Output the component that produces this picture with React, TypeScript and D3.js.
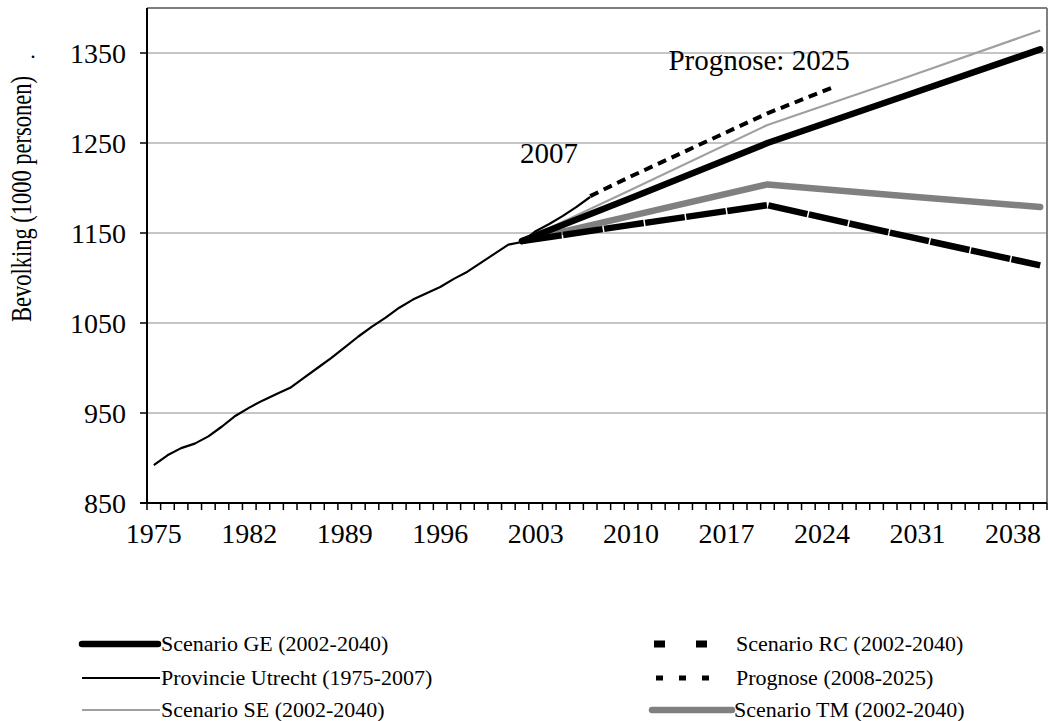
import React from "react";
import * as d3 from "d3";

// ---------- data ----------
const years: number[] = d3.range(1975, 2041);
const yTicks: number[] = [850, 950, 1050, 1150, 1250, 1350];
const xTickLabels: number[] = [1975, 1982, 1989, 1996, 2003, 2010, 2017, 2024, 2031, 2038];

const utrechtYears: number[] = d3.range(1975, 2008);
const utrechtValues: number[] = [
  892, 903, 911, 916, 924, 935, 947, 956, 964, 971, 978, 989, 1000, 1011, 1023, 1035,
  1046, 1056, 1067, 1076, 1083, 1090, 1099, 1107, 1117, 1127, 1137, 1140, 1152, 1160,
  1169, 1179, 1190,
];

const scenarioYears: number[] = [2002, 2010, 2020, 2030, 2040];
const geValues: number[] = [1141, 1189, 1250, 1302, 1354];
const seValues: number[] = [1141, 1198, 1270, 1322, 1375];
const tmValues: number[] = [1141, 1169, 1204, 1191, 1179];
const rcValues: number[] = [1141, 1159, 1181, 1147, 1114];

const prognoseYears: number[] = [2007, 2010, 2015, 2020, 2025];
const prognoseValues: number[] = [1191, 1213, 1248, 1283, 1313];

// ---------- layout ----------
const W = 1048;
const H = 721;
const plot = { left: 147, top: 8, right: 1047, bottom: 503 };
const FONT = "'Liberation Serif', 'Times New Roman', serif";

export default function App() {
  const x = d3.scaleBand<number>().domain(years).range([plot.left, plot.right]).paddingInner(0).paddingOuter(0);
  const xc = (yr: number) => (x(yr) as number) + x.bandwidth() / 2;
  const y = d3.scaleLinear().domain([850, 1400]).range([plot.bottom, plot.top]);

  const line = d3
    .line<[number, number]>()
    .x((d) => xc(d[0]))
    .y((d) => y(d[1]))
    .curve(d3.curveLinear);

  const zip = (xs: number[], vs: number[]) => xs.map((v, i) => [v, vs[i]] as [number, number]);

  const series = [
    { key: "se", d: line(zip(scenarioYears, seValues)), stroke: "#a0a0a0", w: 2.2, dash: undefined, cap: "butt" },
    { key: "utrecht", d: line(zip(utrechtYears, utrechtValues)), stroke: "#000", w: 2.2, dash: undefined, cap: "butt" },
    { key: "tm", d: line(zip(scenarioYears, tmValues)), stroke: "#808080", w: 6.5, dash: undefined, cap: "round" },
    { key: "rc", d: line(zip(scenarioYears, rcValues)), stroke: "#000", w: 6.5, dash: "40 1.5", cap: "butt" },
    { key: "ge", d: line(zip(scenarioYears, geValues)), stroke: "#000", w: 6.5, dash: undefined, cap: "round" },
    { key: "prog", d: line(zip(prognoseYears, prognoseValues)), stroke: "#000", w: 4, dash: "9 6", cap: "butt" },
  ];

  const legendRows = [644, 678, 710];

  return (
    <svg
      width={W}
      height={H}
      style={{ position: "absolute", left: 0, top: 0, background: "#fff" }}
      fontFamily={FONT}
    >
      <rect x={0} y={0} width={W} height={H} fill="#fff" />
      {/* grid lines */}
      {yTicks.slice(1).map((t) => (
        <line key={"g" + t} x1={plot.left} x2={plot.right} y1={y(t)} y2={y(t)} stroke="#8c8c8c" strokeWidth={1.2} />
      ))}
      {/* frame top & right */}
      <line x1={plot.left} x2={plot.right} y1={plot.top} y2={plot.top} stroke="#7f7f7f" strokeWidth={2} />
      <line x1={plot.right} x2={plot.right} y1={plot.top} y2={plot.bottom} stroke="#7f7f7f" strokeWidth={2} />

      {/* series */}
      {series.map((s) => (
        <path
          key={s.key}
          d={s.d || ""}
          fill="none"
          stroke={s.stroke}
          strokeWidth={s.w}
          strokeDasharray={s.dash}
          strokeLinecap={s.cap as any}
          strokeLinejoin="round"
        />
      ))}

      {/* axes */}
      <line x1={plot.left} x2={plot.left} y1={plot.top} y2={plot.bottom} stroke="#000" strokeWidth={2} />
      <line x1={plot.left - 7} x2={plot.right} y1={plot.bottom} y2={plot.bottom} stroke="#000" strokeWidth={2} />
      {yTicks.map((t) => (
        <g key={"yt" + t}>
          <line x1={plot.left - 7} x2={plot.left} y1={y(t)} y2={y(t)} stroke="#000" strokeWidth={1.5} />
          <text x={126} y={y(t)} dy="0.35em" textAnchor="end" fontSize={28} fill="#000">
            {t}
          </text>
        </g>
      ))}
      {years.map((yr) => (
        <line
          key={"xt" + yr}
          x1={x(yr) as number}
          x2={x(yr) as number}
          y1={plot.bottom}
          y2={plot.bottom + 7}
          stroke="#000"
          strokeWidth={1.5}
        />
      ))}
      <line x1={plot.right} x2={plot.right} y1={plot.bottom} y2={plot.bottom + 7} stroke="#000" strokeWidth={1.5} />
      {xTickLabels.map((yr) => (
        <text key={"xl" + yr} x={xc(yr)} y={543} textAnchor="middle" fontSize={28} fill="#000">
          {yr}
        </text>
      ))}

      {/* y title */}
      <text
        transform={`translate(31, ${199}) scale(1.3, 1) rotate(-90)`}
        textAnchor="middle"
        fontSize={22.5}
        fill="#000"
      >
        Bevolking (1000 personen)
      </text>
      <text x={33} y={58} fontSize={22} textAnchor="middle" fill="#000">.</text>

      {/* annotations */}
      <text x={549} y={163} textAnchor="middle" fontSize={29} fill="#000">2007</text>
      <text x={759} y={70} textAnchor="middle" fontSize={29} fill="#000">Prognose: 2025</text>

      {/* legend */}
      <g fontSize={22} fill="#000">
        <line x1={82} x2={158} y1={legendRows[0]} y2={legendRows[0]} stroke="#000" strokeWidth={6.5} strokeLinecap="round" />
        <text x={161} y={legendRows[0]} dy="0.32em">Scenario GE (2002-2040)</text>
        <line x1={82} x2={160} y1={legendRows[1]} y2={legendRows[1]} stroke="#000" strokeWidth={2.2} />
        <text x={161} y={legendRows[1]} dy="0.32em">Provincie Utrecht (1975-2007)</text>
        <line x1={82} x2={160} y1={legendRows[2]} y2={legendRows[2]} stroke="#a0a0a0" strokeWidth={2.2} />
        <text x={161} y={legendRows[2]} dy="0.32em">Scenario SE (2002-2040)</text>

        <line x1={654} x2={716} y1={legendRows[0]} y2={legendRows[0]} stroke="#000" strokeWidth={7} strokeDasharray="11 31" />
        <text x={736} y={legendRows[0]} dy="0.32em">Scenario RC (2002-2040)</text>
        <line x1={656} x2={720} y1={legendRows[1]} y2={legendRows[1]} stroke="#000" strokeWidth={5} strokeDasharray="7 16" />
        <text x={736} y={legendRows[1]} dy="0.32em">Prognose (2008-2025)</text>
        <line x1={652} x2={732} y1={legendRows[2]} y2={legendRows[2]} stroke="#808080" strokeWidth={6.5} strokeLinecap="round" />
        <text x={734} y={legendRows[2]} dy="0.32em">Scenario TM (2002-2040)</text>
      </g>
    </svg>
  );
}
